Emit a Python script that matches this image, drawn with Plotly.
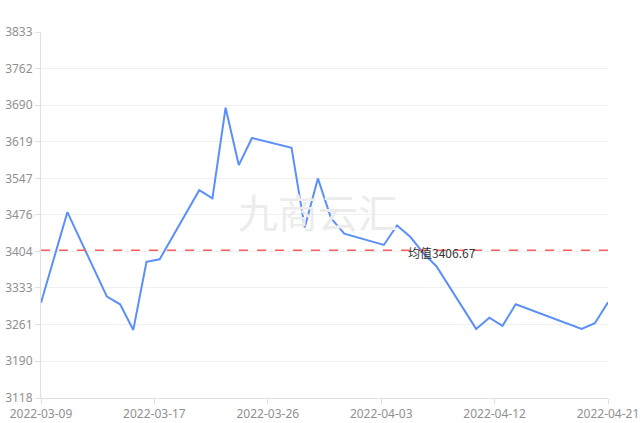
import plotly.graph_objects as go
import pandas as pd

dates = ["2022-03-09", "2022-03-11", "2022-03-14", "2022-03-15", "2022-03-16", "2022-03-17",
         "2022-03-18", "2022-03-21", "2022-03-22", "2022-03-23", "2022-03-24", "2022-03-25",
         "2022-03-28", "2022-03-29", "2022-03-30", "2022-03-31", "2022-04-01", "2022-04-04",
         "2022-04-05", "2022-04-06", "2022-04-07", "2022-04-08", "2022-04-11", "2022-04-12",
         "2022-04-13", "2022-04-14", "2022-04-19", "2022-04-20", "2022-04-21"]
values = [3304, 3481, 3316, 3301, 3251, 3384, 3389, 3524, 3508, 3685, 3573, 3626,
          3607, 3451, 3547, 3469, 3439, 3417, 3455, 3433, 3401, 3375, 3253, 3275,
          3259, 3301, 3253, 3264, 3305]
mean_value = 3406.67
mean_label = "均值3406.67"
y_ticks = [3118, 3190, 3261, 3333, 3404, 3476, 3547, 3619, 3690, 3762, 3833]
x_start = "2022-03-09"
x_end = "2022-04-21"
watermark = "九商云汇"

start = pd.Timestamp(x_start)
end = pd.Timestamp(x_end)
n_div = 5
x_tickvals = [start + (end - start) * k / n_div for k in range(n_div + 1)]
x_ticktext = [t.strftime("%Y-%m-%d") for t in x_tickvals]

fig = go.Figure()

fig.add_annotation(xref="paper", yref="paper", x=0.489, y=0.511,
                   xanchor="center", yanchor="middle",
                   text=watermark, showarrow=False,
                   font=dict(size=40, color="#ececec", family="Noto Sans CJK SC"))

fig.add_trace(go.Scatter(
    x=dates, y=values, mode="lines",
    line=dict(color="#5b8ff9", width=2),
    hoverinfo="x+y", showlegend=False,
))

fig.add_shape(type="line", xref="paper", yref="y", x0=0, x1=1,
              y0=mean_value, y1=mean_value,
              line=dict(color="#ff5c5c", width=1.5, dash="dash"))

fig.add_annotation(xref="paper", yref="y", x=0.707, y=mean_value,
                   xanchor="center", yanchor="middle",
                   text=mean_label, showarrow=False, yshift=-2,
                   font=dict(size=12, color="#333333", family="Noto Sans CJK SC"))

axis_font = dict(size=12, color="#909090", family="Noto Sans, sans-serif")
fig.update_layout(
    width=641, height=423,
    margin=dict(l=41, r=33, t=32, b=25),
    paper_bgcolor="white", plot_bgcolor="white",
    xaxis=dict(
        type="date", range=[start, end], automargin=False,
        tickvals=x_tickvals, ticktext=x_ticktext,
        showgrid=False, zeroline=False,
        showline=True, linecolor="#e0e0e0", linewidth=1,
        ticks="outside", ticklen=5, tickcolor="#e0e0e0",
        tickfont=axis_font,
    ),
    yaxis=dict(
        range=[3118, 3833], tickvals=y_ticks, automargin=False,
        showgrid=True, gridcolor="#f0f0f0", gridwidth=1, zeroline=False,
        showline=True, linecolor="#e0e0e0", linewidth=1,
        ticks="outside", ticklen=5, tickcolor="#e0e0e0",
        tickfont=axis_font,
    ),
)

fig.write_html("out.html")
